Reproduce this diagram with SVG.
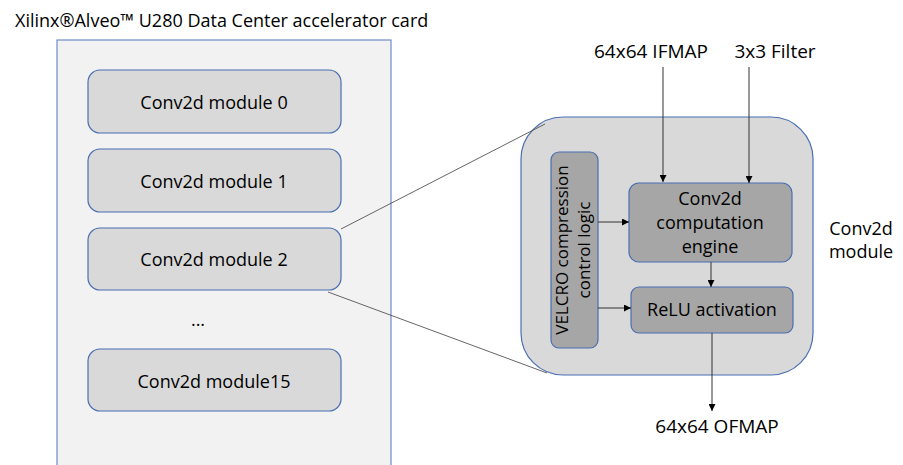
<svg xmlns="http://www.w3.org/2000/svg" width="903" height="465" viewBox="0 0 903 465">
<defs>
<marker id="ah" viewBox="0 0 10 10" refX="10" refY="5" markerWidth="7" markerHeight="7" markerUnits="userSpaceOnUse" orient="auto">
<path d="M0,0 L10,5 L0,10 z" fill="#000"/>
</marker>
<style>
text{font-family:"Open Sans","Noto Sans","Liberation Sans",sans-serif;fill:#000;font-size:18px;}
.c{text-anchor:middle;}
.card{fill:#f2f2f2;stroke:#6f8dc4;stroke-width:1.2;}
.mod{fill:#d9d9d9;stroke:#4a6fb0;stroke-width:1.2;}
.dark{fill:#a6a6a6;stroke:#4a6fb0;stroke-width:1.2;}
.zoom{fill:none;stroke:#555;stroke-width:0.9;}
.arr{fill:none;stroke:#333;stroke-width:1;marker-end:url(#ah);}
</style>
</defs>
<rect width="903" height="465" fill="#fff"/>
<text x="15" y="27" style="font-size:18px">Xilinx®Alveo™ U280 Data Center accelerator card</text>
<g id="card">
<rect class="card" x="57" y="40" width="334" height="440"/>
</g>
<g id="module0"><rect class="mod" x="88" y="70" width="253" height="63" rx="12"/><text class="c" x="214" y="109">Conv2d module 0</text></g>
<g id="module1"><rect class="mod" x="88" y="149" width="253" height="63" rx="12"/><text class="c" x="214" y="188">Conv2d module 1</text></g>
<g id="module2"><rect class="mod" x="88" y="228" width="253" height="62" rx="12"/><text class="c" x="214" y="266">Conv2d module 2</text></g>
<g id="dots"><text class="c" x="198" y="326">...</text></g>
<g id="module15"><rect class="mod" x="88" y="349" width="253" height="62" rx="12"/><text class="c" x="214" y="388">Conv2d module15</text></g>
<g id="conv2d-module">
<rect class="mod" x="521" y="117" width="292" height="258" rx="42"/>
</g>
<g id="module-label"><text class="c" x="861" y="235">Conv2d</text><text class="c" x="861" y="258">module</text></g>
<g id="velcro">
<rect class="dark" x="551" y="152" width="47" height="196" rx="8"/>
<text class="c" transform="translate(568,250) rotate(-90)" style="font-size:17px">VELCRO compression</text>
<text class="c" transform="translate(590,250) rotate(-90)" style="font-size:17px">control logic</text>
</g>
<g id="engine">
<rect class="dark" x="629" y="183" width="163" height="79" rx="10"/>
<text class="c" x="710" y="205">Conv2d</text>
<text class="c" x="710" y="229">computation</text>
<text class="c" x="710" y="253">engine</text>
</g>
<g id="relu">
<rect class="dark" x="631" y="287" width="162" height="46" rx="8"/>
<text class="c" x="712" y="316">ReLU activation</text>
</g>
<g id="ifmap"><text class="c" x="651" y="58" style="font-size:19px">64x64 IFMAP</text></g>
<g id="filter"><text class="c" x="775" y="58" style="font-size:19px">3x3 Filter</text></g>
<g id="ofmap"><text class="c" x="717" y="433" style="font-size:19px">64x64 OFMAP</text></g>
<g id="connectors">
<line class="zoom" x1="341" y1="229" x2="545" y2="124"/>
<line class="zoom" x1="328" y1="292" x2="547" y2="373"/>
<line class="arr" x1="663" y1="67" x2="663" y2="182"/>
<line class="arr" x1="749" y1="67" x2="749" y2="183"/>
<line class="arr" x1="598" y1="222" x2="629" y2="222"/>
<line class="arr" x1="598" y1="308" x2="631" y2="308"/>
<line class="arr" x1="711" y1="262" x2="711" y2="287"/>
<line class="arr" x1="712" y1="333" x2="712" y2="411"/>
</g>
</svg>
